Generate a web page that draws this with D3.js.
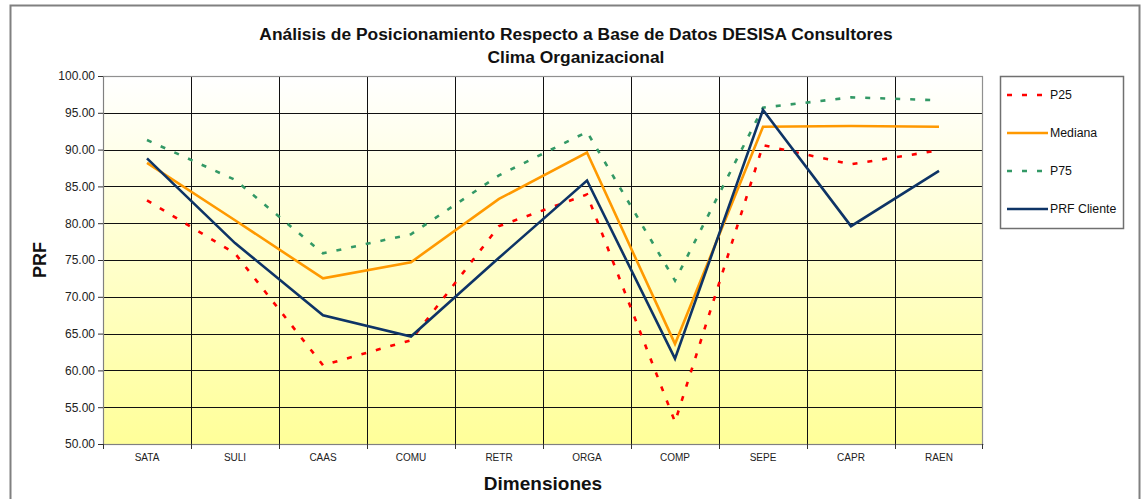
<!DOCTYPE html>
<html><head><meta charset="utf-8">
<script src="https://cdn.jsdelivr.net/npm/d3@7"></script>
<style>body{margin:0;background:#fff;}svg{display:block;font-family:Arial,"Liberation Sans",sans-serif;}</style>
</head><body>
<svg id="c" width="1142" height="499"></svg>
<script>
const categories = ["SATA","SULI","CAAS","COMU","RETR","ORGA","COMP","SEPE","CAPR","RAEN"];
const p25 =        [83.1, 75.9, 60.7, 64.1, 79.6, 83.9, 53.0, 90.6, 88.0, 89.9];
const mediana =    [88.2, 80.4, 72.5, 74.7, 83.3, 89.6, 63.6, 93.1, 93.2, 93.1];
const p75 =        [91.3, 85.9, 75.9, 78.5, 86.5, 92.4, 72.2, 95.7, 97.1, 96.7];
const prfCliente = [88.8, 77.3, 67.5, 64.6, 75.3, 85.8, 61.6, 95.4, 79.6, 87.1];
const yTicks = [50,55,60,65,70,75,80,85,90,95,100];
const titleLines = ["Análisis de Posicionamiento Respecto a Base de Datos DESISA Consultores","Clima Organizacional"];
const series = [
  {name:"P25", values:p25, color:"#FF0000", dash:"5,10"},
  {name:"Mediana", values:mediana, color:"#FF9900", dash:null},
  {name:"P75", values:p75, color:"#339966", dash:"5,10"},
  {name:"PRF Cliente", values:prfCliente, color:"#0E3466", dash:null}
];

const svg = d3.select("#c");
const L=103, R=983, T=76, B=444;

// outer frame
svg.append("rect").attr("x",10.5).attr("y",5.5).attr("width",1129).attr("height",520)
  .attr("fill","#fff").attr("stroke","#808080").attr("stroke-width",2);

// gradient
const defs = svg.append("defs");
const g = defs.append("linearGradient").attr("id","bg").attr("x1",0).attr("y1",0).attr("x2",0).attr("y2",1);
g.append("stop").attr("offset","0%").attr("stop-color","#FFFFFF");
g.append("stop").attr("offset","100%").attr("stop-color","#FFFF99");

const x = d3.scaleBand().domain(categories).range([L,R]);
const y = d3.scaleLinear().domain([50,100]).range([B,T]);

svg.append("rect").attr("x",L).attr("y",T).attr("width",R-L).attr("height",B-T).attr("fill","url(#bg)");

// gridlines
const grid = svg.append("g");
grid.selectAll("line.h").data(yTicks.slice(1,-1)).join("line")
  .attr("x1",L).attr("x2",R).attr("y1",d=>Math.round(y(d))+0.5).attr("y2",d=>Math.round(y(d))+0.5)
  .attr("stroke","#111").attr("stroke-width",1);
grid.selectAll("line.v").data(categories.slice(1)).join("line")
  .attr("x1",d=>Math.round(x(d))+0.5).attr("x2",d=>Math.round(x(d))+0.5).attr("y1",T).attr("y2",B)
  .attr("stroke","#111").attr("stroke-width",1);

// plot border
svg.append("rect").attr("x",L+0.5).attr("y",T+0.5).attr("width",R-L-1).attr("height",B-T)
  .attr("fill","none").attr("stroke","#909090").attr("stroke-width",1.2);

// y axis
const yAxis = svg.append("g").attr("transform",`translate(${L},0)`)
  .call(d3.axisLeft(y).tickValues(yTicks).tickFormat(d3.format(".2f")).tickSize(5).tickPadding(3));
yAxis.select(".domain").attr("stroke","#808080");
yAxis.selectAll(".tick line").attr("stroke","#333");
yAxis.selectAll("text").attr("font-size","12px").attr("fill","#222").attr("font-family","Arial,'Liberation Sans',sans-serif");

// x axis
const xAxis = svg.append("g").attr("transform",`translate(0,${B})`)
  .call(d3.axisBottom(x).tickSize(0).tickPadding(10));
xAxis.select(".domain").attr("stroke","#808080");
xAxis.selectAll("text").attr("font-size","10px").attr("fill","#222").attr("font-family","Arial,'Liberation Sans',sans-serif");
svg.append("g").selectAll("line").data(categories.concat(["__end"])).join("line")
  .attr("x1",(d,i)=> i<categories.length ? Math.round(x(d))+0.5 : R-0.5)
  .attr("x2",(d,i)=> i<categories.length ? Math.round(x(d))+0.5 : R-0.5)
  .attr("y1",B).attr("y2",B+5).attr("stroke","#333");

// lines
const line = d3.line().x((d,i)=>x(categories[i])+x.bandwidth()/2).y(d=>y(d));
series.forEach(s=>{
  svg.append("path").datum(s.values).attr("d",line).attr("fill","none")
    .attr("stroke",s.color).attr("stroke-width",2.6)
    .attr("stroke-dasharray",s.dash).attr("stroke-linejoin","miter");
});

// title
svg.append("g").selectAll("text").data(titleLines).join("text")
  .attr("x",576).attr("y",(d,i)=>40+i*23).attr("text-anchor","middle")
  .attr("font-size","17.4px").attr("font-weight","bold").attr("fill","#111").text(d=>d);

// axis titles
svg.append("text").attr("transform","translate(46,260) rotate(-90)").attr("text-anchor","middle")
  .attr("font-size","18px").attr("font-weight","bold").attr("fill","#111").text("PRF");
svg.append("text").attr("x",543).attr("y",490).attr("text-anchor","middle")
  .attr("font-size","19px").attr("font-weight","bold").attr("fill","#111").text("Dimensiones");

// legend
const lg = svg.append("g");
lg.append("rect").attr("x",1000.5).attr("y",76.5).attr("width",123).attr("height",152)
  .attr("fill","#fff").attr("stroke","#707070").attr("stroke-width",1.5);
const items = lg.selectAll("g.item").data(series).join("g").attr("transform",(d,i)=>`translate(0,${95+i*38})`);
items.append("line").attr("x1",1007).attr("x2",1048).attr("y1",0).attr("y2",0)
  .attr("stroke",d=>d.color).attr("stroke-width",2.6).attr("stroke-dasharray",d=>d.dash);
items.append("text").attr("x",1050).attr("y",4).attr("font-size","12.3px").attr("fill","#111").text(d=>d.name);
</script>
</body></html>
